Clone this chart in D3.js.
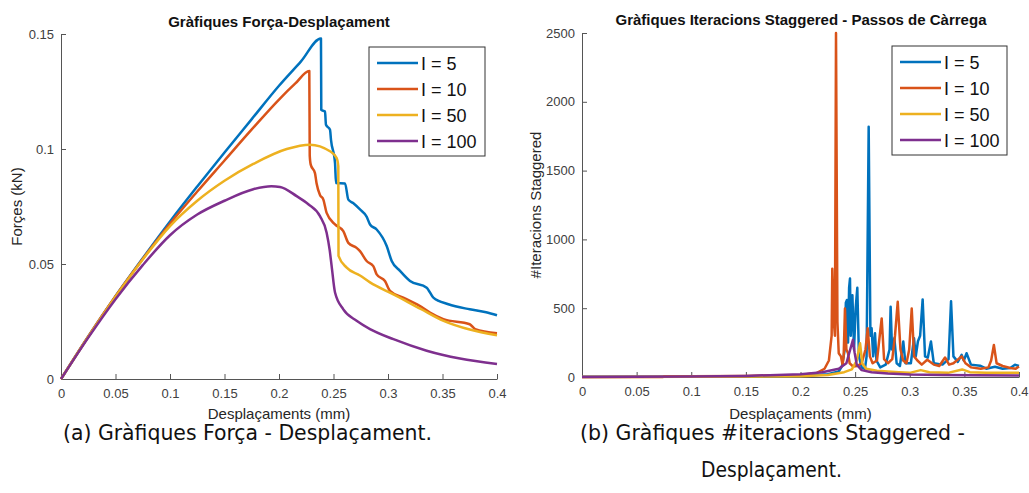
<!DOCTYPE html>
<html>
<head>
<meta charset="utf-8">
<script src="https://cdn.jsdelivr.net/npm/d3@7"></script>
<style>
  html, body { margin: 0; padding: 0; background: #fff; }
  svg { display: block; }
</style>
</head>
<body>
<svg id="fig" width="1029" height="493"></svg>
<script>
// ---- Load-displacement curves (displacement in mm, force in kN) ----
const forceI5 = [
  [0,0],[0.025,0.0185],[0.05,0.036],[0.075,0.0525],[0.1,0.0685],[0.125,0.0837],[0.15,0.0985],
  [0.175,0.1130],[0.2,0.1275],[0.22,0.1380],[0.2385,0.148],
  [0.2388,0.117],[0.2422,0.1163],[0.2431,0.1105],[0.2468,0.1084],[0.2477,0.104],[0.2514,0.0939],
  [0.2523,0.0852],[0.2606,0.085],[0.2636,0.078],[0.268,0.0765],[0.2743,0.0737],[0.2805,0.0705],
  [0.2835,0.0672],[0.2896,0.065],[0.2988,0.0578],[0.3034,0.0513],[0.311,0.047],[0.3202,0.0426],
  [0.3355,0.0397],[0.3416,0.0354],[0.3554,0.0325],[0.375,0.0303],[0.39,0.0290],[0.4,0.0277]
];
const forceI10 = [
  [0,0],[0.025,0.0185],[0.05,0.036],[0.075,0.0522],[0.1,0.0675],[0.125,0.0815],[0.15,0.0950],
  [0.175,0.1085],[0.2,0.1215],[0.215,0.1285],[0.2278,0.1339],
  [0.2282,0.0971],[0.2291,0.0932],[0.2330,0.0895],[0.2345,0.0850],[0.2376,0.0800],[0.2407,0.078],
  [0.2437,0.0722],[0.2514,0.0672],[0.259,0.0643],[0.2636,0.0592],[0.2712,0.057],[0.2743,0.0556],
  [0.2804,0.0513],[0.2865,0.0491],[0.2896,0.0455],[0.2972,0.0426],[0.3018,0.0383],[0.314,0.0354],
  [0.329,0.0318],[0.3385,0.0289],[0.3508,0.026],[0.375,0.0238],[0.38,0.0217],[0.4,0.0199]
];
const forceI50 = [
  [0,0],[0.025,0.0183],[0.05,0.0358],[0.075,0.0520],[0.1,0.0665],[0.125,0.0775],[0.15,0.0862],
  [0.1764,0.0935],[0.2071,0.1000],[0.2284,0.1019],[0.2468,0.099],[0.2529,0.0961],[0.2544,0.0925],
  [0.2546,0.0535],[0.2621,0.0484],[0.2743,0.0450],[0.2835,0.0420],[0.305,0.0368],[0.33,0.0305],
  [0.351,0.0253],[0.375,0.0215],[0.4,0.0190]
];
const forceI100 = [
  [0,0],[0.025,0.0180],[0.05,0.0347],[0.075,0.0495],[0.1,0.0625],[0.125,0.0715],[0.15,0.0775],
  [0.1764,0.0825],[0.193,0.0838],[0.2009,0.0835],[0.2162,0.0795],[0.2269,0.0760],[0.2376,0.0708],
  [0.2437,0.0636],[0.2465,0.0560],[0.2483,0.0491],[0.2514,0.0376],[0.259,0.0303],[0.2712,0.0253],
  [0.2835,0.0217],[0.305,0.0173],[0.3355,0.0123],[0.366,0.0089],[0.4,0.0065]
];

// ---- Staggered iterations per load step ----
const iterI5 = [
  [0,1],[0.1,2],[0.2,8],[0.225,20],[0.235,40],[0.238,80],[0.2405,200],[0.2415,540],[0.2425,560],
  [0.2435,250],[0.2445,650],[0.2453,715],[0.246,300],[0.2475,595],[0.249,200],[0.2505,500],
  [0.252,648],[0.2535,150],[0.256,70],[0.259,60],[0.2605,150],[0.2624,1818],[0.264,300],
  [0.2651,354],[0.2665,150],[0.2682,318],[0.2695,120],[0.273,70],[0.278,90],[0.2815,200],
  [0.2825,511],[0.2838,200],[0.2859,282],[0.288,100],[0.291,80],[0.2941,258],[0.296,100],
  [0.301,100],[0.3039,282],[0.3055,150],[0.3075,260],[0.3095,300],[0.3118,564],[0.314,150],
  [0.3165,140],[0.3194,258],[0.322,100],[0.33,90],[0.3355,130],[0.3378,551],[0.340,150],
  [0.344,110],[0.3475,161],[0.3495,120],[0.352,173],[0.356,90],[0.3643,82],[0.370,60],
  [0.378,75],[0.385,60],[0.392,65],[0.3963,89],[0.4,80]
];
const iterI10 = [
  [0,0],[0.074,0],[0.075,5],[0.1,5],[0.15,8],[0.2,15],[0.215,30],[0.222,60],[0.226,120],
  [0.2285,300],[0.2291,787],[0.2305,400],[0.2315,300],[0.2325,2500],[0.2338,400],[0.235,173],
  [0.237,150],[0.2385,89],[0.2395,150],[0.2407,498],[0.242,200],[0.2435,173],[0.245,100],
  [0.248,77],[0.252,80],[0.256,100],[0.2595,200],[0.2615,354],[0.2635,150],[0.266,100],
  [0.270,120],[0.2743,426],[0.2765,130],[0.280,100],[0.284,130],[0.2865,300],[0.289,547],
  [0.2915,200],[0.294,120],[0.297,100],[0.2995,200],[0.3018,498],[0.304,150],[0.307,120],
  [0.311,90],[0.316,125],[0.322,90],[0.327,80],[0.3323,142],[0.336,90],[0.340,100],[0.3475,150],
  [0.351,100],[0.356,70],[0.365,60],[0.372,70],[0.3745,120],[0.377,233],[0.3795,100],
  [0.385,80],[0.392,65],[0.397,60],[0.4,77]
];
const iterI50 = [
  [0,0],[0.1,1],[0.2,5],[0.225,15],[0.24,35],[0.247,55],[0.2515,120],[0.2545,246],[0.2565,100],
  [0.260,60],[0.27,45],[0.29,35],[0.3,30],[0.31,50],[0.318,35],[0.335,30],[0.348,55],
  [0.355,35],[0.37,30],[0.4,30]
];
const iterI100 = [
  [0,0],[0.05,1],[0.1,3],[0.15,8],[0.2,20],[0.22,35],[0.235,60],[0.242,100],[0.2455,200],
  [0.248,270],[0.2495,180],[0.2515,90],[0.256,50],[0.265,35],[0.28,25],[0.3,18],[0.33,14],
  [0.36,12],[0.4,10]
];

const seriesLabels = ["I = 5", "I = 10", "I = 50", "I = 100"];
const seriesColors = ["#0072BD", "#D95319", "#EDB120", "#7E2F8E"];
const xTicks = [0, 0.05, 0.1, 0.15, 0.2, 0.25, 0.3, 0.35, 0.4];
const forceTicks = [0, 0.05, 0.1, 0.15];
const iterTicks = [0, 500, 1000, 1500, 2000, 2500];

const svg = d3.select("#fig");
const FONT = "'Liberation Sans', Arial, sans-serif";

function drawPanel(o) {
  const g = svg.append("g");
  const x = d3.scaleLinear().domain([0, 0.4]).range([o.left, o.right]);
  const y = d3.scaleLinear().domain(o.yDomain).range([o.bottom, o.top]);

  // axes (inward ticks, no box)
  const xAxis = d3.axisBottom(x).tickValues(xTicks).tickSizeInner(-5).tickSizeOuter(0)
    .tickPadding(10).tickFormat(d => String(d));
  const yAxis = d3.axisLeft(y).tickValues(o.yTicks).tickSizeInner(-5).tickSizeOuter(0)
    .tickPadding(7).tickFormat(d => String(d));

  const gx = g.append("g").attr("transform", `translate(0,${o.bottom})`).call(xAxis);
  const gy = g.append("g").attr("transform", `translate(${o.left},0)`).call(yAxis);
  [gx, gy].forEach(a => {
    a.select(".domain").attr("stroke", "#555").attr("stroke-width", 1);
    a.selectAll(".tick line").attr("stroke", "#555");
    a.selectAll(".tick text").attr("fill", "#404040")
      .style("font-family", FONT).style("font-size", "13px");
  });

  // curves
  const line = d3.line().x(d => x(d[0])).y(d => y(d[1])).curve(o.curve);
  o.series.forEach((s, i) => {
    g.append("path").datum(s).attr("d", line)
      .attr("fill", "none").attr("stroke", seriesColors[i])
      .attr("stroke-width", 2.5).attr("stroke-linejoin", "round");
  });

  // title and axis labels
  g.append("text").attr("x", o.titleX).attr("y", o.titleY).attr("text-anchor", "middle")
    .style("font-family", FONT).style("font-size", "15px").style("font-weight", "bold")
    .attr("fill", "#111").text(o.title);
  g.append("text").attr("x", (o.left + o.right) / 2).attr("y", 419).attr("text-anchor", "middle")
    .style("font-family", FONT).style("font-size", "15px").attr("fill", "#262626")
    .text("Desplaçaments (mm)");
  g.append("text").attr("transform", `translate(${o.yLabelX},${(o.top + o.bottom) / 2}) rotate(-90)`)
    .attr("text-anchor", "middle")
    .style("font-family", FONT).style("font-size", "15px").attr("fill", "#262626")
    .text(o.yLabel);

  // legend
  const L = o.legend;
  g.append("rect").attr("x", L.x).attr("y", L.y).attr("width", L.w).attr("height", L.h)
    .attr("fill", "#fff").attr("stroke", "#333").attr("stroke-width", 1);
  seriesLabels.forEach((lab, i) => {
    const cy = L.y + 16 + i * 26;
    g.append("line").attr("x1", L.x + 8).attr("x2", L.x + 49).attr("y1", cy).attr("y2", cy)
      .attr("stroke", seriesColors[i]).attr("stroke-width", 2.5);
    g.append("text").attr("x", L.x + 52).attr("y", cy + 6.5)
      .style("font-family", FONT).style("font-size", "18px").attr("fill", "#111")
      .text(lab);
  });
}

drawPanel({
  left: 61, right: 497, top: 34, bottom: 379,
  yDomain: [0, 0.15], yTicks: forceTicks, curve: d3.curveMonotoneX,
  series: [forceI5, forceI10, forceI50, forceI100],
  title: "Gràfiques Força-Desplaçament", titleX: 279, titleY: 27,
  yLabel: "Forçes (kN)", yLabelX: 22,
  legend: { x: 369, y: 47, w: 116, h: 109 }
});

drawPanel({
  left: 582, right: 1019, top: 33, bottom: 377,
  yDomain: [0, 2500], yTicks: iterTicks, curve: d3.curveLinear,
  series: [iterI5, iterI10, iterI50, iterI100],
  title: "Gràfiques Iteracions Staggered - Passos de Càrrega", titleX: 801, titleY: 25,
  yLabel: "#Iteracions Staggered", yLabelX: 541,
  legend: { x: 892, y: 46, w: 115, h: 109 }
});

// sub-figure captions
const CAP = "'Liberation Sans Narrow', 'DejaVu Sans Condensed', sans-serif";
function caption(txt, x, y, len) {
  svg.append("text").attr("x", x).attr("y", y)
    .attr("textLength", len).attr("lengthAdjust", "spacingAndGlyphs")
    .style("font-family", CAP).style("font-size", "22px").attr("fill", "#111").text(txt);
}
caption("(a) Gràfiques Força - Desplaçament.", 63, 440, 369);
caption("(b) Gràfiques #iteracions Staggered -", 580, 440, 385);
caption("Desplaçament.", 701, 477, 141);
</script>
</body>
</html>
